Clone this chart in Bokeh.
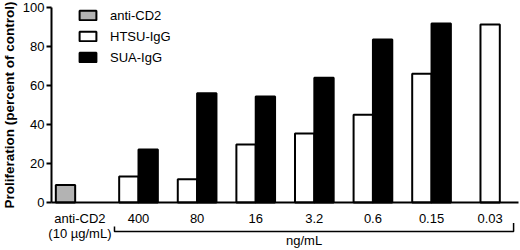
from bokeh.plotting import figure
from bokeh.models import ColumnDataSource, FixedTicker, Legend, LegendItem, Range1d
from bokeh.core.properties import value
from bokeh.embed import file_html
from bokeh.resources import INLINE

# ---- data ----
groups = ["anti-CD2\n(10 µg/mL)", "400", "80", "16", "3.2", "0.6", "0.15", "0.03"]
anti_cd2 = [9.0, None, None, None, None, None, None, None]
htsu = [None, 13.3, 12.0, 29.7, 35.4, 45.0, 66.0, 91.3]
sua = [None, 27.2, 56.0, 54.4, 64.0, 83.6, 91.8, None]
y_ticks = [0, 20, 40, 60, 80, 100]
unit_label = "ng/mL"
y_title = "Proliferation (percent of control)"

FONT = "Liberation Sans"
BAR_W = 0.33
X_AXIS_POS = -0.485          # where the y axis stands (data units)
X_START, X_END = -1.355, 7.518
X_AXIS_END = 7.484
Y_START, Y_END = -24.6, 103.6

def series_source(vals, offset_pair, offset_single):
    xs, ys = [], []
    for i, v in enumerate(vals):
        if v is None:
            continue
        others = [s[i] for s in (anti_cd2, htsu, sua) if s is not vals]
        paired = any(o is not None for o in others)
        xs.append(i + (offset_pair if paired else offset_single))
        ys.append(v)
    return ColumnDataSource(dict(x=xs, top=ys))

src_gray = series_source(anti_cd2, -0.246, -0.246)
src_white = series_source(htsu, -BAR_W / 2, 0.0)
src_black = series_source(sua, BAR_W / 2, 0.0)

p = figure(width=520, height=250, output_backend="svg", toolbar_location=None,
           x_range=Range1d(X_START, X_END), y_range=Range1d(Y_START, Y_END),
           min_border_left=0, min_border_right=0, min_border_top=0, min_border_bottom=0)
p.outline_line_color = None
p.xgrid.visible = False
p.ygrid.visible = False
p.background_fill_color = "white"

r_gray = p.vbar(x="x", top="top", bottom=0, width=BAR_W, source=src_gray,
                fill_color="#b3b3b3", line_color="black", line_width=2)
r_white = p.vbar(x="x", top="top", bottom=0, width=BAR_W, source=src_white,
                 fill_color="white", line_color="black", line_width=2)
r_black = p.vbar(x="x", top="top", bottom=0, width=BAR_W, source=src_black,
                 fill_color="black", line_color="black", line_width=2)

# x axis drawn at y = 0
xa = p.xaxis[0]
xa.fixed_location = 0
xa.bounds = (X_AXIS_POS, X_AXIS_END)
xa.ticker = FixedTicker(ticks=list(range(len(groups))))
xa.major_label_overrides = {i: g for i, g in enumerate(groups)}
xa.axis_line_width = 2
xa.axis_line_color = "black"
xa.major_tick_out = 0
xa.major_tick_in = 0
xa.minor_tick_out = 0
xa.minor_tick_in = 0
xa.major_label_standoff = 8
xa.major_label_text_font = FONT
xa.major_label_text_font_size = "13px"
xa.major_label_text_color = "black"
xa.major_label_text_line_height = 1.0

# y axis drawn at x = X_AXIS_POS
ya = p.yaxis[0]
ya.fixed_location = X_AXIS_POS
ya.bounds = (0, 100)
ya.ticker = FixedTicker(ticks=y_ticks)
ya.axis_line_width = 2
ya.axis_line_color = "black"
ya.major_tick_line_width = 2
ya.major_tick_out = 5
ya.major_tick_in = 0
ya.minor_tick_out = 0
ya.minor_tick_in = 0
ya.major_label_standoff = 2
ya.major_label_text_font = FONT
ya.major_label_text_font_size = "13px"
ya.major_label_text_color = "black"
ya.axis_label = y_title
ya.axis_label_text_font = FONT
ya.axis_label_text_font_size = "13.5px"
ya.axis_label_text_font_style = "bold"
ya.axis_label_text_color = "black"
ya.axis_label_standoff = 3

# bracket under the concentration groups
b0 = 1 - 0.41
b1 = (len(groups) - 1) + 0.40
p.line(x=[b0, b0, b1, b1], y=[-12.3, -14.9, -14.9, -10.5], line_color="black", line_width=1.5)
p.text(x=[(b0 + b1) / 2 - 0.17], y=[-19.5], text=[unit_label], text_align="center",
       text_baseline="middle", text_font=value(FONT), text_font_size="13px", text_color="black")

legend = Legend(items=[LegendItem(label="anti-CD2", renderers=[r_gray]),
                       LegendItem(label="HTSU-IgG", renderers=[r_white]),
                       LegendItem(label="SUA-IgG", renderers=[r_black])],
                location=(77, 185), padding=0, margin=0, spacing=5,
                label_height=16, glyph_height=12, glyph_width=21, label_standoff=12,
                border_line_color=None, background_fill_alpha=0,
                label_text_font=FONT, label_text_font_size="13px", label_text_color="black")
p.add_layout(legend)

open("out.html", "w").write(file_html(p, INLINE))
